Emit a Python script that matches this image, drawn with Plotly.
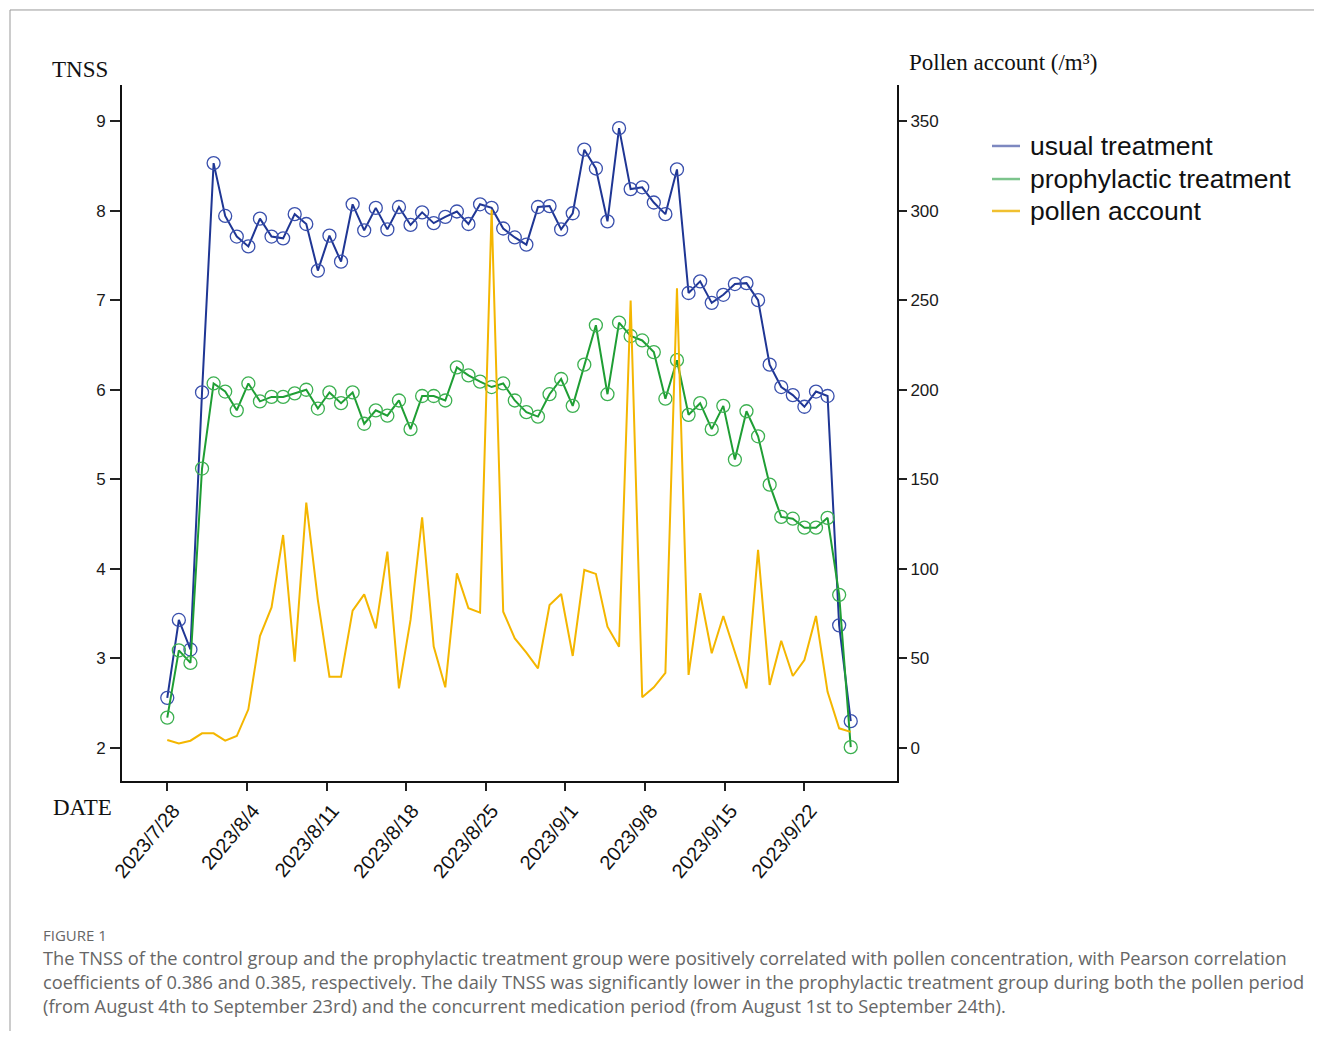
import pandas as pd
import plotly.graph_objects as go

# ---------------- data ----------------
obs_start = "2023-07-28"
obs_end = "2023-09-26 02:00"
n_obs = 60

usual_treatment = [2.56, 3.43, 3.10, 5.97, 8.53, 7.94, 7.71, 7.60, 7.91, 7.71,
                   7.69, 7.96, 7.85, 7.33, 7.72, 7.43, 8.07, 7.78, 8.03, 7.79,
                   8.04, 7.84, 7.98, 7.86, 7.93, 7.99, 7.85, 8.07, 8.03, 7.80,
                   7.70, 7.62, 8.04, 8.05, 7.79, 7.97, 8.68, 8.47, 7.88, 8.92,
                   8.24, 8.26, 8.09, 7.96, 8.46, 7.08, 7.21, 6.97, 7.06, 7.18,
                   7.19, 7.00, 6.28, 6.03, 5.94, 5.81, 5.98, 5.93, 3.37, 2.30]

prophylactic_treatment = [2.34, 3.09, 2.95, 5.12, 6.07, 5.98, 5.77, 6.07, 5.87, 5.92,
                          5.92, 5.96, 6.00, 5.79, 5.97, 5.85, 5.97, 5.62, 5.77, 5.71,
                          5.88, 5.56, 5.93, 5.93, 5.88, 6.25, 6.16, 6.09, 6.03, 6.07,
                          5.88, 5.75, 5.70, 5.95, 6.12, 5.82, 6.28, 6.72, 5.95, 6.75,
                          6.60, 6.55, 6.42, 5.90, 6.33, 5.72, 5.85, 5.56, 5.82, 5.22,
                          5.76, 5.48, 4.94, 4.58, 4.56, 4.46, 4.46, 4.57, 3.71, 2.01]

pollen_account = [4.5, 2.6, 4.1, 8.2, 8.2, 4.1, 6.7, 21.6, 62.5, 78.5,
                  118.9, 48.2, 137.0, 82.6, 39.8, 39.8, 76.7, 85.8, 66.8, 109.6,
                  33.3, 71.5, 128.8, 56.6, 33.9, 97.5, 78.0, 75.6, 300.4, 76.1,
                  61.2, 53.2, 44.5, 79.8, 86.0, 51.4, 99.4, 97.2, 67.7, 56.6,
                  249.8, 28.3, 33.9, 42.0, 256.7, 40.8, 86.4, 52.9, 73.7, 53.2,
                  33.3, 110.6, 35.2, 59.9, 40.2, 49.1, 73.7, 31.4, 11.0, 9.0]

tick_dates = ["2023-07-28", "2023-08-04", "2023-08-11", "2023-08-18", "2023-08-25",
              "2023-09-01", "2023-09-08", "2023-09-15", "2023-09-22"]
tick_labels = ["2023/7/28", "2023/8/4", "2023/8/11", "2023/8/18", "2023/8/25",
               "2023/9/1", "2023/9/8", "2023/9/15", "2023/9/22"]

series_names = ["usual treatment", "prophylactic treatment", "pollen account"]

caption_title = "FIGURE 1"
caption_lines = [
    "The TNSS of the control group and the prophylactic treatment group were positively correlated with pollen concentration, with Pearson correlation",
    "coefficients of 0.386 and 0.385, respectively. The daily TNSS was significantly lower in the prophylactic treatment group during both the pollen period",
    "(from August 4th to September 23rd) and the concurrent medication period (from August 1st to September 24th).",
]

# ---------------- figure ----------------
dates = pd.date_range(obs_start, obs_end, periods=n_obs)

BLUE, BLUE_M = "#1f3694", "#3a50ad"
GREEN, GREEN_M = "#1f9e34", "#3cb050"
YELLOW = "#f4b600"
LEGEND_COLS = ["#7d88c0", "#7cc48c", "#f0c030"]

fig = go.Figure()

fig.add_trace(go.Scatter(
    x=dates, y=usual_treatment, mode="lines+markers", name=series_names[0],
    line=dict(color=BLUE, width=2),
    marker=dict(symbol="circle-open", size=13, color=BLUE_M, line=dict(width=1.3)),
    showlegend=False, yaxis="y"))
fig.add_trace(go.Scatter(
    x=dates, y=prophylactic_treatment, mode="lines+markers", name=series_names[1],
    line=dict(color=GREEN, width=2),
    marker=dict(symbol="circle-open", size=13, color=GREEN_M, line=dict(width=1.3)),
    showlegend=False, yaxis="y"))
fig.add_trace(go.Scatter(
    x=dates, y=pollen_account, mode="lines", name=series_names[2],
    line=dict(color=YELLOW, width=2),
    showlegend=False, yaxis="y2"))

start = pd.Timestamp(obs_start)
x_range = [start - pd.Timedelta(days=3.98), start + pd.Timedelta(days=64.15)]

axis_font = dict(family="Liberation Sans, Arial, sans-serif", size=17, color="#1a1a1a")
serif = "Liberation Serif, Times New Roman, serif"

# plot area placed at page px x 122..897, y 85..781 (page body has 8px margin)
fig.update_layout(
    width=1306, height=1023, autosize=False,
    margin=dict(l=114, r=417, t=77, b=250, pad=0),
    paper_bgcolor="white", plot_bgcolor="white",
    showlegend=False,
    xaxis=dict(type="date", range=x_range, showgrid=False, zeroline=False,
               showline=True, linecolor="#111", linewidth=2,
               ticks="outside", ticklen=8, tickwidth=1.5, tickcolor="#222",
               tickvals=tick_dates, ticktext=tick_labels, tickangle=-50,
               ticklabelshift=6,
               tickfont=dict(family="Liberation Sans, Arial, sans-serif", size=20, color="#111")),
    yaxis=dict(range=[1.632, 9.402], tickvals=[2, 3, 4, 5, 6, 7, 8, 9],
               showgrid=False, zeroline=False, showline=True, linecolor="#111", linewidth=2,
               ticks="outside", ticklen=10, tickwidth=1.5, tickcolor="#222",
               ticklabelstandoff=1, tickfont=axis_font),
    yaxis2=dict(range=[-18.4, 370.1], tickvals=[0, 50, 100, 150, 200, 250, 300, 350],
                overlaying="y", side="right", showgrid=False, zeroline=False,
                showline=True, linecolor="#111", linewidth=2,
                ticks="outside", ticklen=8, tickwidth=1.5, tickcolor="#222",
                ticklabelstandoff=0, tickfont=axis_font),
)

annos = [
    dict(text="TNSS", x=-0.0542, y=1.0216, xanchor="center", yanchor="middle",
         font=dict(family=serif, size=23, color="#111")),
    dict(text="Pollen account (/m³)", x=1.0129, y=1.033, xanchor="left", yanchor="middle",
         font=dict(family=serif, size=23, color="#111")),
    dict(text="DATE", x=-0.0516, y=-0.0374, xanchor="center", yanchor="middle",
         font=dict(family=serif, size=23, color="#111")),
    dict(text=caption_title, x=-0.1045, y=-0.2213, xanchor="left", yanchor="middle",
         font=dict(family="Open Sans, sans-serif", size=15, color="#666")),
]
for k, line in enumerate(caption_lines):
    annos.append(dict(text=line, x=-0.1045, y=-0.2529 - 0.0345 * k, xanchor="left",
                      yanchor="middle",
                      font=dict(family="Open Sans, sans-serif", size=18.25, color="#666")))

# legend (line sample + label), placed right of the plot
leg_y = [0.9124, 0.8649, 0.8190]
shapes = []
for nm, col, yy in zip(series_names, LEGEND_COLS, leg_y):
    annos.append(dict(text=nm, x=1.169, y=yy, xanchor="left", yanchor="middle",
                      font=dict(family="Liberation Sans, Arial, sans-serif", size=26.5, color="#111")))
    shapes.append(dict(type="line", xref="paper", yref="paper", x0=1.1226, x1=1.1587,
                       y0=yy, y1=yy, line=dict(color=col, width=2.5)))

for a in annos:
    a.update(xref="paper", yref="paper", showarrow=False)

# page frame lines (top and left edge of the figure image)
shapes.append(dict(type="line", xref="paper", yref="paper", x0=-0.1445, x1=1.55, y0=1.1078, y1=1.1078,
                   line=dict(color="#999", width=1)))
shapes.append(dict(type="line", xref="paper", yref="paper", x0=-0.1445, x1=-0.1445, y0=1.1078, y1=-0.372,
                   line=dict(color="#999", width=1)))

fig.update_layout(annotations=annos, shapes=shapes)

fig.write_html("out.html")
